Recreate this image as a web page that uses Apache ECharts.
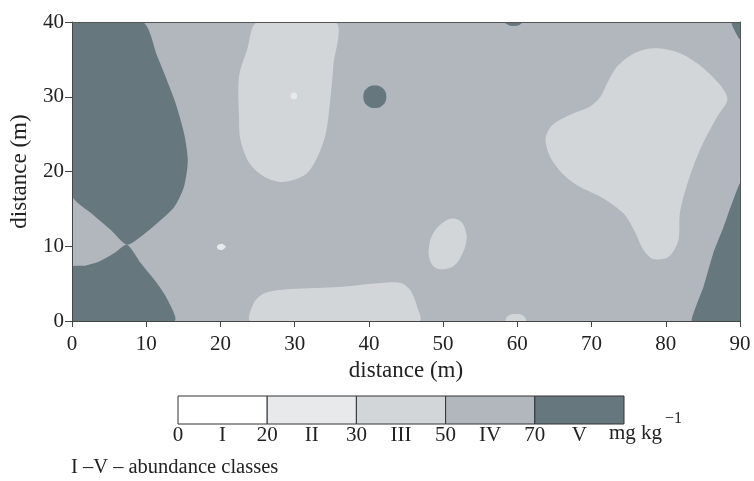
<!DOCTYPE html>
<html>
<head>
  <meta charset="utf-8">
  <title>abundance classes map</title>
  <script src="https://cdn.jsdelivr.net/npm/echarts@6/dist/echarts.min.js"></script>
</head>
<body style="margin:0">
  <div id="main" style="width:754px;height:481px;"></div>
  <script type="text/javascript">
    // class limits (mg kg-1) and names
    var classNames = ['I', 'II', 'III', 'IV', 'V'];
    var classBreaks = [0, 20, 30, 50, 70];
    var xTicks = [0, 10, 20, 30, 40, 50, 60, 70, 80, 90];
    var yTicks = [0, 10, 20, 30, 40];

    // region outlines in field metres [x, y]
    var fieldArea = [[0, 0], [90, 0], [90, 40], [0, 40]];
    var darkNW = [[9.5, 40], [11.5, 35.4], [13.8, 29.6], [15.1, 25.1], [15.6, 21.5], [15.1, 18],
      [13.8, 15.3], [11.5, 13.1], [9.3, 11.3], [7.4, 10.2], [5.2, 12.2], [2.6, 14.4],
      [0, 16.9], [0, 40]];
    var darkSW = [[13.8, 0], [12.9, 2.8], [11.5, 5], [9.3, 7.7], [7.4, 10.2], [5.7, 9.1],
      [3.5, 7.9], [1.7, 7.4], [0, 7.2], [0, 0]];
    var darkSE = [[83.5, 0], [85.1, 4.6], [86.4, 9.1], [87.8, 12.6], [90, 18.4], [90, 0]];
    var darkNE = [[88.8, 40], [89.0, 39.4], [89.4, 38.6], [89.8, 37.9], [90, 37.7], [90, 40]];
    var darkTop = [[58.1, 40], [58.5, 39.75], [59.0, 39.5], [59.5, 39.45], [60.0, 39.5],
      [60.4, 39.7], [60.8, 40]];
    var darkSpot = [[42.35, 30], [41.9, 31.1], [40.8, 31.5], [39.7, 31.1], [39.25, 30],
      [39.7, 28.9], [40.8, 28.5], [41.9, 28.9]];
    var midTop = [[25.0, 40], [23.6, 36.3], [22.5, 32.7], [22.5, 27.3], [22.7, 24.2],
      [23.9, 21.1], [25.9, 19.3], [28.1, 18.6], [29.9, 18.9], [31.7, 19.8], [33.1, 22.0],
      [34.2, 25.1], [34.8, 29.6], [35.2, 34.0], [35.5, 40]];
    var midBottom = [[24.1, 0], [24.5, 2.4], [25.9, 3.7], [28.6, 4.2], [35.3, 4.5],
      [41.6, 5.1], [44.3, 5.1], [45.6, 4.1], [46.5, 1.9], [46.8, 0]];
    var midSmall = [[51.2, 13.7], [52.4, 13.3], [53.1, 11.8], [53.1, 10.5], [52.6, 9.0], [51.7, 7.6],
      [50.5, 7.0], [49.0, 7.1], [48.2, 8.2], [48.1, 9.9], [48.6, 11.6], [49.9, 13.1]];
    var midSpot60 = [[58.4, 0], [58.5, 0.45], [58.9, 0.8], [59.4, 0.95], [60.2, 0.95],
      [60.7, 0.8], [61.1, 0.45], [61.2, 0]];
    var midEast = [[78.3, 36.5], [75.7, 35.8], [73.4, 34.0], [72.1, 31.8], [71.2, 30.0], [69.8, 28.7],
      [67.1, 27.6], [64.7, 26.2], [63.8, 24.4], [64.4, 22.0], [66.0, 19.8], [68.0, 18.2],
      [71.6, 16.4], [74.3, 14.4], [75.7, 12.2], [77.0, 9.5], [78.3, 8.3], [80.4, 8.6],
      [81.7, 10.8], [81.9, 14.4], [82.8, 18.0], [84.6, 22.9], [86.9, 27.3], [88.3, 29.6],
      [87.3, 31.6], [84.2, 34.5], [81.5, 36.0]];
    var lowSpot30 = [[30.35, 30.1], [30.2, 30.45], [29.9, 30.55], [29.55, 30.4], [29.45, 30.1],
      [29.6, 29.75], [29.9, 29.65], [30.2, 29.75]];
    var lowSpot20 = [[20.7, 9.95], [20.4, 10.25], [20.0, 10.3], [19.6, 10.1], [19.6, 9.7], [20.0, 9.5],
      [20.4, 9.6]];

    // class index per outline (0 = I ... 4 = V), drawn in this order
    var regionShapes = [fieldArea, midTop, midBottom, midSmall, midSpot60, midEast,
      darkNW, darkSW, darkSE, darkNE, darkTop, darkSpot, lowSpot30, lowSpot20];
    var regionClass = [3, 2, 2, 2, 2, 2, 4, 4, 4, 4, 4, 4, 1, 1];
    var regionSmooth = [0, 0.3, 0.3, 0.4, 0, 0.3, 0.25, 0.25, 0.1, 0, 0, 0.45, 0.5, 0.5];

    var palette = ['#ffffff', '#e8e9eb', '#d2d6d9', '#b1b7bc', '#66787d'];
    var font = 'Liberation Serif';
    var txt = '#222';

    var legendLabels = [];
    classNames.forEach(function (n, i) {
      legendLabels.push(String(classBreaks[i]), n);
    });

    var myChart = echarts.init(document.getElementById('main'));

    var frameAxis = {
      axisLine: { show: true, onZero: false, lineStyle: { color: '#555', width: 1 } },
      axisTick: { show: false },
      axisLabel: { show: false },
      splitLine: { show: false }
    };

    var option = {
      backgroundColor: '#fff',
      animation: false,
      textStyle: { fontFamily: font },
      grid: [
        { left: 71, right: 14, top: 22, bottom: 160 },
        { left: 178, width: 446, top: 396, height: 28 }
      ],
      xAxis: [
        {
          type: 'value', gridIndex: 0, min: 0, max: 90, interval: 10, z: 5,
          name: 'distance (m)', nameLocation: 'middle', nameGap: 38,
          nameTextStyle: { fontFamily: font, fontSize: 23, color: txt },
          axisLine: { onZero: false, lineStyle: { color: '#444' } },
          axisTick: { length: 6, lineStyle: { color: '#444' } },
          axisLabel: {
            margin: 13, fontFamily: font, fontSize: 21, color: txt,
            formatter: function (v) { return xTicks.indexOf(v) >= 0 ? String(v) : ''; }
          },
          splitLine: { show: false }
        },
        echarts.util.merge({ type: 'value', gridIndex: 0, position: 'top', min: 0, max: 90, z: 5 }, frameAxis),
        {
          type: 'value', gridIndex: 1, min: 0, max: 5, interval: 0.5,
          axisLine: { show: false }, axisTick: { show: false }, splitLine: { show: false },
          axisLabel: {
            margin: 1, fontFamily: font, fontSize: 21, color: txt,
            formatter: function (v) { return legendLabels[Math.round(v * 2)] || ''; }
          }
        }
      ],
      yAxis: [
        {
          type: 'value', gridIndex: 0, min: 0, max: 40, interval: 10, z: 5,
          name: 'distance (m)', nameLocation: 'middle', nameGap: 41,
          nameTextStyle: { fontFamily: font, fontSize: 23, color: txt },
          axisLine: { onZero: false, lineStyle: { color: '#444' } },
          axisTick: { length: 7, lineStyle: { color: '#444' } },
          axisLabel: {
            margin: 8, fontFamily: font, fontSize: 21, color: txt,
            formatter: function (v) { return yTicks.indexOf(v) >= 0 ? String(v) : ''; }
          },
          splitLine: { show: false }
        },
        echarts.util.merge({ type: 'value', gridIndex: 0, position: 'right', min: 0, max: 40, z: 5 }, frameAxis),
        { type: 'value', gridIndex: 1, min: 0, max: 1, show: false }
      ],
      graphic: [
        {
          type: 'text', left: 609, top: 423,
          style: { text: 'mg kg', font: '21px "Liberation Serif"', fill: txt }
        },
        {
          type: 'text', left: 665, top: 411,
          style: { text: '\u22121', font: '16px "Liberation Serif"', fill: txt }
        },
        {
          type: 'text', left: 71, top: 457,
          style: { text: 'I \u2013V \u2013 abundance classes', font: '20.5px "Liberation Serif"', fill: txt }
        }
      ],
      series: [
        {
          type: 'custom',
          xAxisIndex: 0, yAxisIndex: 0,
          clip: true,
          silent: true,
          data: regionShapes.map(function (s, i) { return [i]; }),
          renderItem: function (params, api) {
            var i = params.dataIndex;
            var pts = regionShapes[i].map(function (p) { return api.coord(p); });
            // keep smoothed outlines inside the field rectangle
            var box = [api.coord([0, 40]), api.coord([90, 0])];
            return {
              type: 'polygon',
              shape: { points: pts, smooth: regionSmooth[i], smoothConstraint: box },
              style: { fill: palette[regionClass[i]], stroke: null }
            };
          }
        },
        {
          type: 'custom',
          xAxisIndex: 2, yAxisIndex: 2,
          silent: true,
          data: classNames.map(function (n, i) { return [i, i + 1]; }),
          renderItem: function (params, api) {
            var a = api.coord([api.value(0), 1]);
            var b = api.coord([api.value(1), 0]);
            return {
              type: 'rect',
              shape: { x: a[0], y: a[1], width: b[0] - a[0], height: b[1] - a[1] },
              style: { fill: palette[params.dataIndex], stroke: '#333', lineWidth: 1 }
            };
          }
        }
      ]
    };

    myChart.setOption(option);
  </script>
</body>
</html>
